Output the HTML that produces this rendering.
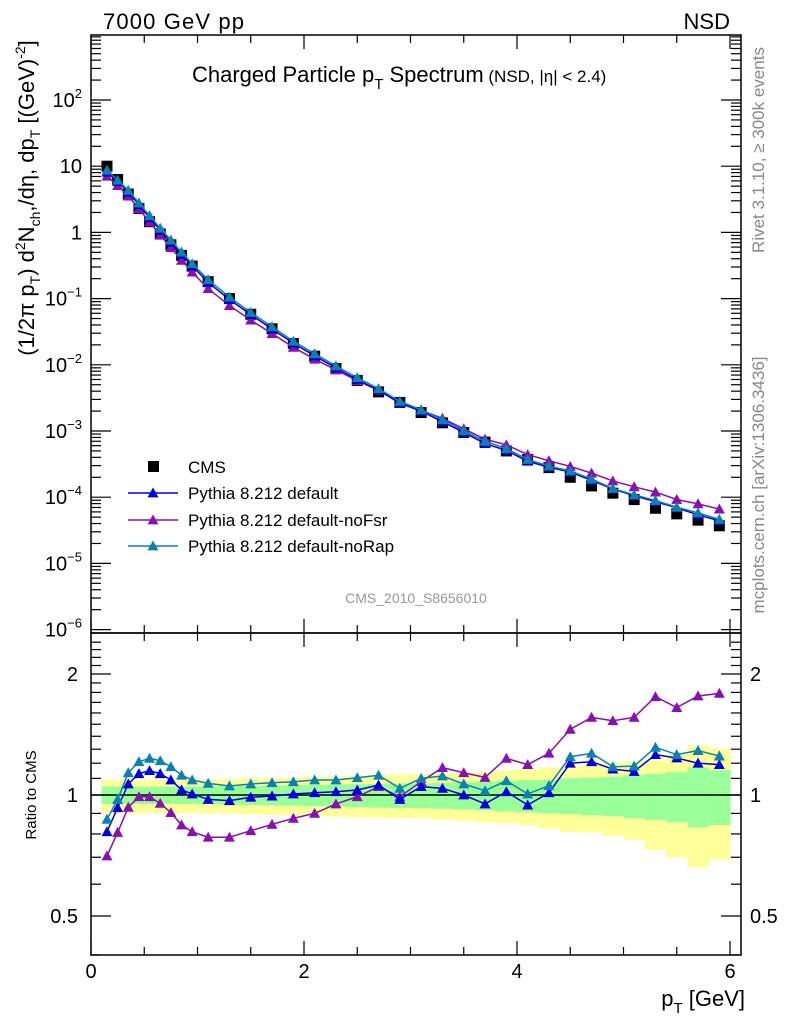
<!DOCTYPE html>
<html><head><meta charset="utf-8"><style>
body{margin:0;background:#fff;font-family:"Liberation Sans",sans-serif}
svg text{font-family:"Liberation Sans","DejaVu Sans",sans-serif}
</style></head><body>
<svg id="c" width="786" height="1024" xmlns="http://www.w3.org/2000/svg">
<rect width="786" height="1024" fill="#fff"/>
<g id="bands"></g>
<g id="axes"></g>
<g id="marks"></g>
<text x="103" y="29" font-size="22" textLength="141">7000 GeV pp</text>
<text x="730" y="29" font-size="22" text-anchor="end">NSD</text>
<text x="192" y="82" font-size="22">Charged Particle p<tspan font-size="15" dy="7">T</tspan><tspan dy="-7"> Spectrum</tspan><tspan font-size="17"> (NSD, |η| &lt; 2.4)</tspan></text>
<text x="416" y="603" font-size="14" fill="#999" text-anchor="middle">CMS_2010_S8656010</text>
<text transform="translate(764,150) rotate(-90)" font-size="17" fill="#888" text-anchor="middle">Rivet 3.1.10, ≥ 300k events</text>
<text transform="translate(764,485) rotate(-90)" font-size="17" fill="#888" text-anchor="middle">mcplots.cern.ch [arXiv:1306.3436]</text>
<text transform="translate(34,198) rotate(-90)" font-size="22" text-anchor="middle">(1/2π p<tspan font-size="14" dy="6">T</tspan><tspan dy="-6">) d</tspan><tspan font-size="14" dy="-9">2</tspan><tspan dy="9">N</tspan><tspan font-size="14" dy="6">ch</tspan><tspan dy="-6">,/dη, dp</tspan><tspan font-size="14" dy="6">T</tspan><tspan dy="-6"> [(GeV)</tspan><tspan font-size="14" dy="-9">-2</tspan><tspan dy="9">]</tspan></text>
<text transform="translate(36,795) rotate(-90)" font-size="15" text-anchor="middle">Ratio to CMS</text>
<text x="745" y="1006" font-size="22" text-anchor="end">p<tspan font-size="15" dy="7">T</tspan><tspan dy="-7"> [GeV]</tspan></text>
<g id="legend"></g>
</svg>
<script>
const xs=[0.15,0.25,0.35,0.45,0.55,0.65,0.75,0.85,0.95,1.1,1.3,1.5,1.7,1.9,2.1,2.3,2.5,2.7,2.9,3.1,3.3,3.5,3.7,3.9,4.1,4.3,4.5,4.7,4.9,5.1,5.3,5.5,5.7,5.9];
const binLo=[0.1,0.2,0.3,0.4,0.5,0.6,0.7,0.8,0.9,1.0,1.2,1.4,1.6,1.8,2.0,2.2,2.4,2.6,2.8,3.0,3.2,3.4,3.6,3.8,4.0,4.2,4.4,4.6,4.8,5.0,5.2,5.4,5.6,5.8];
const binHi=[0.2,0.3,0.4,0.5,0.6,0.7,0.8,0.9,1.0,1.2,1.4,1.6,1.8,2.0,2.2,2.4,2.6,2.8,3.0,3.2,3.4,3.6,3.8,4.0,4.2,4.4,4.6,4.8,5.0,5.2,5.4,5.6,5.8,6.0];
const cms=[10,6.3,3.8,2.3,1.45,0.95,0.65,0.45,0.31,0.18,0.1,0.058,0.035,0.021,0.0135,0.0088,0.0058,0.0039,0.0027,0.0019,0.00133,0.00095,0.00068,0.0005,0.00037,0.00028,0.0002,0.000148,0.000115,0.000092,0.000068,0.000056,0.000045,0.000037];
const rDefault=[0.81,0.93,1.065,1.13,1.15,1.13,1.09,1.03,1.006,0.975,0.968,0.987,0.994,1.006,1.013,1.019,1.029,1.059,0.975,1.049,1.039,1.0,0.95,1.019,0.944,1.013,1.2,1.21,1.16,1.144,1.26,1.236,1.2,1.19];
const rNoFsr=[0.705,0.807,0.932,0.99,0.99,0.953,0.904,0.842,0.81,0.785,0.785,0.815,0.845,0.875,0.9,0.95,0.99,1.049,0.99,1.08,1.17,1.136,1.106,1.234,1.19,1.27,1.457,1.56,1.53,1.56,1.756,1.65,1.763,1.79];
const rNoRap=[0.87,0.975,1.136,1.21,1.234,1.217,1.176,1.12,1.09,1.069,1.053,1.065,1.073,1.079,1.09,1.09,1.104,1.12,1.039,1.1,1.115,1.065,1.025,1.085,1.006,1.055,1.245,1.27,1.176,1.18,1.314,1.26,1.29,1.25];
const rErr=[0,0,0,0,0,0,0,0,0,0,0,0,0,0,0,0,0,0,0,0,0,0,0,0.005,0.006,0.008,0.01,0.012,0.013,0.015,0.02,0.02,0.025,0.025];
const yelUp=[1.09,1.09,1.09,1.09,1.09,1.09,1.09,1.09,1.09,1.09,1.095,1.1,1.1,1.105,1.11,1.11,1.115,1.12,1.125,1.128,1.13,1.135,1.14,1.15,1.16,1.17,1.176,1.18,1.2,1.21,1.22,1.26,1.33,1.306];
const yelDn=[0.9,0.9,0.9,0.9,0.9,0.9,0.9,0.9,0.9,0.9,0.898,0.895,0.892,0.89,0.887,0.884,0.88,0.878,0.876,0.875,0.868,0.862,0.855,0.85,0.84,0.826,0.81,0.806,0.79,0.773,0.73,0.70,0.66,0.69];
const grnUp=[1.049,1.049,1.049,1.049,1.049,1.049,1.049,1.049,1.049,1.05,1.052,1.054,1.056,1.058,1.06,1.062,1.064,1.066,1.068,1.069,1.072,1.076,1.08,1.085,1.09,1.09,1.1,1.105,1.11,1.12,1.13,1.14,1.17,1.154];
const grnDn=[0.95,0.95,0.95,0.95,0.95,0.95,0.95,0.95,0.95,0.948,0.946,0.944,0.942,0.94,0.938,0.935,0.932,0.93,0.928,0.927,0.924,0.92,0.915,0.91,0.905,0.9,0.895,0.89,0.885,0.875,0.866,0.855,0.831,0.842];
const xTicks=[0,2,4,6];
const yTickExp=[-6,-5,-4,-3,-2,-1,0,1,2];
const rTicks=[0.5,1,2];

const NS='http://www.w3.org/2000/svg';
const L=91,R=741,T=35,MB=633,B=955;
const X=v=>L+v*106.5;
const Y=v=>100-(Math.log10(v)-2)*66.2;
const RY=v=>795-Math.log2(v)*121;
function mk(p,tag,a){const e=document.createElementNS(NS,tag);for(const k in a)e.setAttribute(k,a[k]);p.appendChild(e);return e;}
const bands=document.getElementById('bands'),axes=document.getElementById('axes'),marks=document.getElementById('marks'),leg=document.getElementById('legend');
for(let i=0;i<xs.length;i++){
 const y=mk(bands,'rect',{x:X(binLo[i]),y:RY(yelUp[i]),width:X(binHi[i])-X(binLo[i])+0.5,height:RY(yelDn[i])-RY(yelUp[i]),fill:'#ffff99'});
 
 
 const g=mk(bands,'rect',{x:X(binLo[i]),y:RY(grnUp[i]),width:X(binHi[i])-X(binLo[i])+0.5,height:RY(grnDn[i])-RY(grnUp[i]),fill:'#99ff99'});
 
 
}
mk(axes,'line',{x1:L,x2:R,y1:RY(1),y2:RY(1),stroke:'#000','stroke-width':1.5});
mk(axes,'rect',{x:L,y:T,width:R-L,height:MB-T,fill:'none',stroke:'#000','stroke-width':1.5});
mk(axes,'rect',{x:L,y:MB,width:R-L,height:B-MB,fill:'none',stroke:'#000','stroke-width':1.5});
for(let v=0;v<=6.01;v+=0.5){const maj=Math.abs(v-Math.round(v/2)*2)<0.01;const len=maj?14:8;
 [[T,1],[MB,-1],[MB,1],[B,-1]].forEach(([y0,d])=>{mk(axes,'line',{x1:X(v),x2:X(v),y1:y0,y2:y0+d*len,stroke:'#000','stroke-width':1.2});});}
xTicks.forEach(v=>{const t=mk(axes,'text',{x:X(v),y:978,'font-size':20,'text-anchor':'middle'});t.textContent=v;
 
 });
for(let e=-6;e<=2;e++){for(let m=1;m<=9;m++){const v=m*Math.pow(10,e);const y=Y(v);if(y<T||y>MB)continue;const len=m==1?20:10;
 mk(axes,'line',{x1:L,x2:L+len,y1:y,y2:y,stroke:'#000','stroke-width':1.2});mk(axes,'line',{x1:R,x2:R-len,y1:y,y2:y,stroke:'#000','stroke-width':1.2});}}
yTickExp.forEach(e=>{const t=mk(axes,'text',{x:82,y:Y(Math.pow(10,e))+7,'font-size':20,'text-anchor':'end'});
 if(e==0)t.textContent='1';else if(e==1)t.textContent='10';else{t.innerHTML='10<tspan font-size="13" dy="-9">'+(e<0?'−'+(-e):e)+'</tspan>';}
 
 });
for(let v=0.4;v<=2.5;v+=0.1){const y=RY(v);if(y<MB||y>B)continue;const maj=rTicks.some(r=>Math.abs(r-v)<0.01);const len=maj?20:10;
 mk(axes,'line',{x1:L,x2:L+len,y1:y,y2:y,stroke:'#000','stroke-width':1.2});mk(axes,'line',{x1:R,x2:R-len,y1:y,y2:y,stroke:'#000','stroke-width':1.2});}
rTicks.forEach(v=>{const y=RY(v)+7;
 const a=mk(axes,'text',{x:78,y:y,'font-size':20,'text-anchor':'end'});a.textContent=v;
 
 
 const b=mk(axes,'text',{x:750,y:y,'font-size':20});b.textContent=v;
 
 });
const tri=(x,y,s)=>`${x},${y-s} ${x-s},${y+s*0.8} ${x+s},${y+s*0.8}`;
const series=[{r:rNoFsr,c:'#8a0fb0',n:'noFsr'},{r:rDefault,c:'#0000dd',n:'default'},{r:rNoRap,c:'#0a82b0',n:'noRap'}];
xs.forEach((x,i)=>{const s=mk(marks,'rect',{x:X(x)-5.5,y:Y(cms[i])-5.5,width:11,height:11,fill:'#000'});
 
 });
series.forEach(S=>{
 const pl=mk(marks,'polyline',{points:xs.map((x,i)=>X(x)+','+Y(cms[i]*S.r[i])).join(' '),fill:'none',stroke:S.c,'stroke-width':1.5});
 
 
 const rl=mk(marks,'polyline',{points:xs.map((x,i)=>X(x)+','+RY(S.r[i])).join(' '),fill:'none',stroke:S.c,'stroke-width':1.5});
 
 
 xs.forEach((x,i)=>{
  const p=mk(marks,'polygon',{points:tri(X(x),Y(cms[i]*S.r[i]),5.5),fill:S.c});
  
  
  if(rErr[i]>0){const eb=mk(marks,'line',{x1:X(x),x2:X(x),y1:RY(S.r[i]*(1+rErr[i])),y2:RY(S.r[i]*(1-rErr[i])),stroke:S.c,'stroke-width':1.5});
   
   }
  const q=mk(marks,'polygon',{points:tri(X(x),RY(S.r[i]),5.5),fill:S.c});
  
  
 });
});
const ls=mk(leg,'rect',{x:148,y:461,width:11,height:11,fill:'#000'});


const lt=mk(leg,'text',{x:188,y:473,'font-size':17});lt.textContent='CMS';


[['Pythia 8.212 default','#0000dd',493],['Pythia 8.212 default-noFsr','#8a0fb0',520],['Pythia 8.212 default-noRap','#0a82b0',546]].forEach(([n,c,y])=>{
 mk(leg,'line',{x1:128,x2:178,y1:y,y2:y,stroke:c,'stroke-width':1.5});
 mk(leg,'polygon',{points:tri(153,y,5.5),fill:c});
 const t=mk(leg,'text',{x:188,y:y+6,'font-size':17});t.textContent=n;
 
 
});
</script>
</body></html>
